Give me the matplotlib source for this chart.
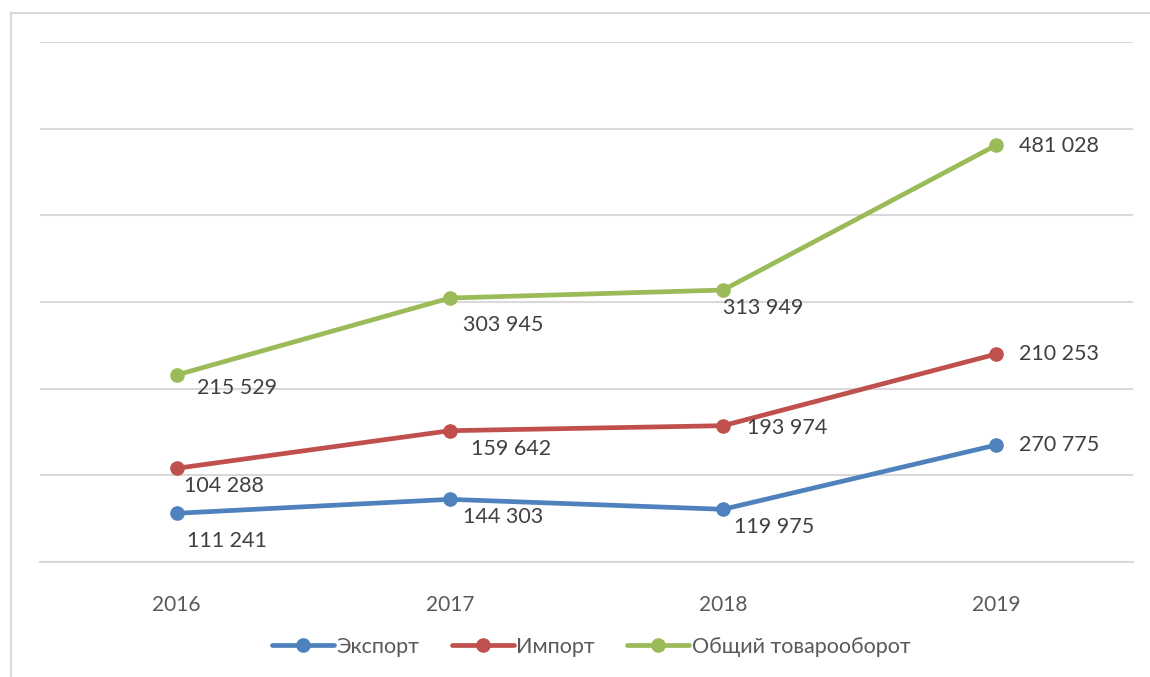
import matplotlib.pyplot as plt
from matplotlib.lines import Line2D

plt.rcParams['font.family'] = ['Lato', 'DejaVu Sans']

years = ["2016", "2017", "2018", "2019"]
series_names = ["Экспорт", "Импорт", "Общий товарооборот"]

# positions of the points as they appear on the chart (gridline step = 100 000)
export_vals = [56200, 72300, 60800, 135000]
import_vals = [108100, 151500, 157300, 240000]
total_vals = [215800, 304600, 313800, 481100]

# data labels as printed on the chart
export_labels = ["111 241", "144 303", "119 975", "270 775"]
import_labels = ["104 288", "159 642", "193 974", "210 253"]
total_labels = ["215 529", "303 945", "313 949", "481 028"]

colors = ["#4F81BD", "#C0504D", "#9BBB59"]
# label offsets in pixels (dx to left edge, dy down)
offsets = [
    [(10, 28), (13, 18), (11, 18), (23, 0)],
    [(7, 18), (21, 18), (24, 2), (23, 0)],
    [(20, 13), (13, 27), (0, 18), (23, 1)],
]

fig = plt.figure(figsize=(11.5, 6.77), dpi=100)
ax = fig.add_axes([40 / 1150, 1 - 562 / 677, 1093 / 1150, 520 / 677])

x = range(len(years))
all_vals = [export_vals, import_vals, total_vals]
all_labels = [export_labels, import_labels, total_labels]
for vals, labels, name, c, offs in zip(all_vals, all_labels, series_names, colors, offsets):
    ax.plot(x, vals, color=c, lw=3.4, marker="o", markersize=9.5, label=name,
            solid_capstyle="round", zorder=3)
    for xi, v, lab, (dx, dy) in zip(x, vals, labels, offs):
        ax.annotate(lab, (xi, v), xytext=(dx, -dy), textcoords="offset pixels",
                    ha="left", va="center", fontsize=15.5, color="#404040")

ax.set_xlim(-0.5, 3.5)
ax.set_ylim(0, 600000)
ax.set_yticks(range(0, 600001, 100000))
ax.set_yticklabels([])
ax.tick_params(axis="y", length=0)
ax.set_xticks(list(x))
ax.set_xticklabels(years, fontsize=15, color="#595959")
ax.tick_params(axis="x", length=0, pad=24)
ax.grid(axis="y", color="#D9D9D9", lw=1.5)
ax.set_axisbelow(True)
for s in ["top", "right", "left"]:
    ax.spines[s].set_visible(False)
ax.spines["bottom"].set_color("#D9D9D9")
ax.spines["bottom"].set_linewidth(1.5)

# outer chart frame (left and top edges)
fig.add_artist(Line2D([11 / 1150, 11 / 1150], [0, 1 - 13 / 677], color="#D9D9D9", lw=1.5))
fig.add_artist(Line2D([11 / 1150, 1], [1 - 13 / 677, 1 - 13 / 677], color="#D9D9D9", lw=1.5))

fig.legend(loc="center", bbox_to_anchor=(591 / 1150, 1 - 647 / 677), ncol=3,
           frameon=False, fontsize=15.5, handlelength=2.9, handletextpad=0.1,
           columnspacing=1.5, labelcolor="#595959")

fig.savefig("out.png", dpi=100)
